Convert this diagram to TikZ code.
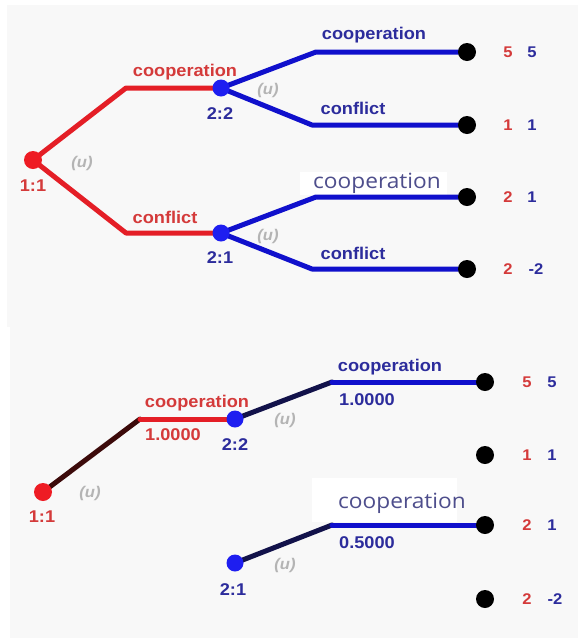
\documentclass[tikz,border=0pt]{standalone}
\usepackage{fontspec}
\setmainfont{Liberation Sans}
\newfontfamily\labfont[FakeStretch=1.07]{Liberation Sans}
\newfontfamily\bigfont[FakeStretch=1.08]{Open Sans}
\definecolor{panelgray}{HTML}{F8F8F8}
\definecolor{linered}{HTML}{E41E26}
\definecolor{lineblue}{HTML}{1010CC}
\definecolor{nodered}{HTML}{EE1C24}
\definecolor{nodeblue}{HTML}{1E1EF0}
\definecolor{txtred}{HTML}{D43A3A}
\definecolor{txtblue}{HTML}{2C2C9C}
\definecolor{ugray}{HTML}{B4B4B4}
\definecolor{bigblue}{HTML}{4E4E8C}
\definecolor{darkred}{HTML}{3C0A0A}
\definecolor{darkblue}{HTML}{12124A}
\pgfdeclarelayer{panel}
\pgfdeclarelayer{edges}
\pgfsetlayers{panel,edges,main}
\tikzset{
  dot/.style={circle, inner sep=0pt, minimum size=18pt},
  rdot/.style={dot, fill=nodered},
  bdot/.style={dot, fill=nodeblue, minimum size=17pt},
  tdot/.style={dot, fill=black},
  lab/.style={font=\labfont\bfseries\fontsize{17}{17}\selectfont, inner sep=0pt},
  rlab/.style={lab, text=txtred},
  blab/.style={lab, text=txtblue},
  paylab/.style={font=\labfont\bfseries\fontsize{15.5}{15.5}\selectfont, inner sep=0pt},
  rpay/.style={paylab, text=txtred},
  bpay/.style={paylab, text=txtblue},
  ulab/.style={font=\labfont\bfseries\itshape\fontsize{15.5}{15.5}\selectfont, inner sep=0pt, text=ugray},
  biglab/.style={font=\bigfont\fontsize{21}{21}\selectfont, inner sep=0pt, text=bigblue},
  edge/.style={line width=5pt, line join=round, line cap=round},
  redge/.style={edge, draw=linered},
  bedge/.style={edge, draw=lineblue},
  dredge/.style={edge, draw=darkred},
  dbedge/.style={edge, draw=darkblue},
}
\begin{document}
\begin{tikzpicture}[x=1pt,y=-1pt]
\useasboundingbox (0,0) rectangle (578,638);
\begin{pgfonlayer}{panel}
  \fill[white] (0,0) rectangle (578,638);
  \fill[panelgray] (7,5) rectangle (578,327);
  \fill[panelgray] (10,327) rectangle (578,638);
  \fill[white] (300,172) rectangle (447,195);
  \fill[white] (312,478) rectangle (457,522);
\end{pgfonlayer}

% ---------------- top panel ----------------
\node[rdot] (a) at (33,160) {};
\node[bdot] (b) at (221,88) {};
\node[bdot] (c) at (221,233) {};
\node[tdot] (t1) at (467,52) {};
\node[tdot] (t2) at (467,125) {};
\node[tdot] (t3) at (467,197) {};
\node[tdot] (t4) at (467,269) {};
\coordinate (ab) at (126,88);
\coordinate (ac) at (126,233);
\coordinate (b1) at (316,52);
\coordinate (b2) at (312,125);
\coordinate (c1) at (316,197);
\coordinate (c2) at (312,269);
\begin{pgfonlayer}{edges}
  \draw[redge] (a.center) -- (ab) -- (b.center);
  \draw[redge] (a.center) -- (ac) -- (c.center);
  \draw[bedge] (b.center) -- (b1) -- (t1.center);
  \draw[bedge] (b.center) -- (b2) -- (t2.center);
  \draw[bedge] (c.center) -- (c1) -- (t3.center);
  \draw[bedge] (c.center) -- (c2) -- (t4.center);
\end{pgfonlayer}
\node[rlab] (la) at (33,186) {1:1};
\node[ulab] (ua) at (82,163) {(u)};
\node[rlab] (lab1) at (185,72) {cooperation};
\node[rlab] (lac1) at (165,217) {conflict};
\node[blab] (lb) at (220,114) {2:2};
\node[ulab] (ub) at (268,90) {(u)};
\node[blab] (lc) at (220,258) {2:1};
\node[ulab] (uc) at (268,236) {(u)};
\node[blab] (lbt1) at (374,35) {cooperation};
\node[blab] (lbt2) at (353,108) {conflict};
\node[biglab] (lct1) at (377,183) {cooperation};
\node[blab] (lct2) at (353,253) {conflict};
\node[rpay] (p1r) at (508,52) {5};
\node[bpay] (p1b) at (532,52) {5};
\node[rpay] (p2r) at (508,125) {1};
\node[bpay] (p2b) at (532,125) {1};
\node[rpay] (p3r) at (508,197) {2};
\node[bpay] (p3b) at (532,197) {1};
\node[rpay] (p4r) at (508,269) {2};
\node[bpay] (p4b) at (536,269) {-2};

% ---------------- bottom panel ----------------
\node[rdot] (A) at (43,492) {};
\node[bdot] (B) at (235,419) {};
\node[bdot] (C) at (235,563) {};
\node[tdot] (T1) at (485,382) {};
\node[tdot] (T2) at (485,455) {};
\node[tdot] (T3) at (485,525) {};
\node[tdot] (T4) at (485,599) {};
\coordinate (AB) at (140,419);
\coordinate (B1) at (332,382);
\coordinate (C1) at (332,525);
\begin{pgfonlayer}{edges}
  \draw[dredge] (A.center) -- (AB);
  \draw[redge] (AB) -- (B.center);
  \draw[dbedge] (B.center) -- (B1);
  \draw[bedge] (B1) -- (T1.center);
  \draw[dbedge] (C.center) -- (C1);
  \draw[bedge] (C1) -- (T3.center);
\end{pgfonlayer}
\node[rlab] (LA) at (42,517) {1:1};
\node[ulab] (UA) at (90,493) {(u)};
\node[rlab] (LAB1) at (197,403) {cooperation};
\node[rlab] (LAB2) at (173,435) {1.0000};
\node[blab] (LB) at (235,445) {2:2};
\node[ulab] (UB) at (285,420) {(u)};
\node[blab] (LC) at (233,590) {2:1};
\node[ulab] (UC) at (285,565) {(u)};
\node[blab] (LBT1) at (390,367) {cooperation};
\node[blab] (LBT2) at (367,400) {1.0000};
\node[biglab] (LCT1) at (402,503) {cooperation};
\node[blab] (LCT2) at (367,543) {0.5000};
\node[rpay] (P1r) at (527,382) {5};
\node[bpay] (P1b) at (552,382) {5};
\node[rpay] (P2r) at (527,455) {1};
\node[bpay] (P2b) at (552,455) {1};
\node[rpay] (P3r) at (527,525) {2};
\node[bpay] (P3b) at (552,525) {1};
\node[rpay] (P4r) at (527,599) {2};
\node[bpay] (P4b) at (555,599) {-2};
\end{tikzpicture}
\end{document}
